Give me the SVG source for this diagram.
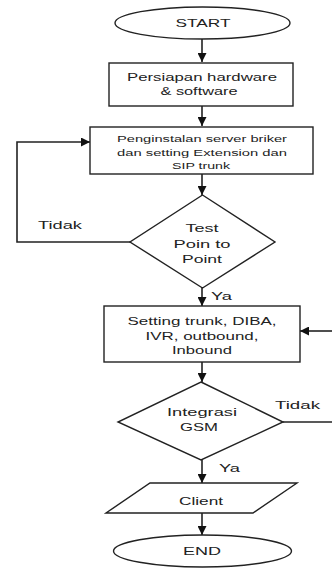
<svg xmlns="http://www.w3.org/2000/svg" width="332" height="570" viewBox="0 0 332 570">
<style>
.s{fill:#fff;stroke:#222;stroke-width:1.4}
.c{fill:none;stroke:#222;stroke-width:1.6}
.t{font-family:"Liberation Sans",Arial,sans-serif;font-size:11px;fill:#222;text-anchor:middle}
.sm{font-size:8.5px}
.l{text-anchor:start}
</style>
<defs>
<marker id="ah" viewBox="0 0 10 10" refX="10" refY="5" markerWidth="9" markerHeight="9" markerUnits="userSpaceOnUse" orient="auto">
<path d="M0,0 L10,5 L0,10 z" fill="#111"/>
</marker>
</defs>
<rect width="332" height="570" fill="#fff"/>
<g id="connectors">
<line class="c" x1="202" y1="39" x2="202" y2="62" marker-end="url(#ah)"/>
<line class="c" x1="202" y1="106" x2="202" y2="126" marker-end="url(#ah)"/>
<line class="c" x1="202" y1="174" x2="202" y2="195" marker-end="url(#ah)"/>
<polyline class="c" points="130,242 17,242 17,142 90,142" marker-end="url(#ah)"/>
<line class="c" x1="202" y1="288" x2="202" y2="306" marker-end="url(#ah)"/>
<line class="c" x1="332" y1="331" x2="300" y2="331" marker-end="url(#ah)"/>
<line class="c" x1="202" y1="362" x2="202" y2="382" marker-end="url(#ah)"/>
<line class="c" x1="283" y1="422" x2="332" y2="422"/>
<line class="c" x1="202" y1="460" x2="202" y2="483" marker-end="url(#ah)"/>
<line class="c" x1="202" y1="513" x2="202" y2="535" marker-end="url(#ah)"/>
<text class="t l" x="38" y="229" textLength="44" lengthAdjust="spacingAndGlyphs">Tidak</text>
<text class="t l" x="211" y="300" textLength="21" lengthAdjust="spacingAndGlyphs">Ya</text>
<text class="t l" x="275" y="409" textLength="45" lengthAdjust="spacingAndGlyphs">Tidak</text>
<text class="t l" x="219" y="472" textLength="21" lengthAdjust="spacingAndGlyphs">Ya</text>
</g>
<g id="start">
<ellipse class="s" cx="202.5" cy="23" rx="87.5" ry="16"/>
<text class="t" x="203" y="27" textLength="55" lengthAdjust="spacingAndGlyphs">START</text>
</g>
<g id="persiapan">
<rect class="s" x="109" y="63" width="184" height="43"/>
<text class="t" x="202" y="81" textLength="150" lengthAdjust="spacingAndGlyphs">Persiapan hardware</text>
<text class="t" x="199" y="95" textLength="77" lengthAdjust="spacingAndGlyphs">&amp; software</text>
</g>
<g id="penginstalan">
<rect class="s" x="90" y="127" width="223" height="47"/>
<text class="t sm" x="202" y="142" textLength="170" lengthAdjust="spacingAndGlyphs">Penginstalan   server  briker</text>
<text class="t sm" x="202" y="156" textLength="170" lengthAdjust="spacingAndGlyphs">dan setting Extension  dan</text>
<text class="t sm" x="201" y="169" textLength="58" lengthAdjust="spacingAndGlyphs">SIP trunk</text>
</g>
<g id="test">
<polygon class="s" points="202.5,195 275,242 202.5,288 130,242"/>
<text class="t" x="202" y="232" textLength="33" lengthAdjust="spacingAndGlyphs">Test</text>
<text class="t" x="202" y="248" textLength="57" lengthAdjust="spacingAndGlyphs">Poin to</text>
<text class="t" x="202" y="263" textLength="40" lengthAdjust="spacingAndGlyphs">Point</text>
</g>
<g id="setting">
<rect class="s" x="104" y="306" width="196" height="56"/>
<text class="t" x="202" y="325" textLength="149" lengthAdjust="spacingAndGlyphs">Setting trunk, DIBA,</text>
<text class="t" x="202" y="340" textLength="113" lengthAdjust="spacingAndGlyphs">IVR, outbound,</text>
<text class="t" x="202" y="354" textLength="60" lengthAdjust="spacingAndGlyphs">Inbound</text>
</g>
<g id="integrasi">
<polygon class="s" points="201,382 283,422 201,460 118,422"/>
<text class="t" x="202" y="416" textLength="70" lengthAdjust="spacingAndGlyphs">Integrasi</text>
<text class="t" x="199" y="431" textLength="38" lengthAdjust="spacingAndGlyphs">GSM</text>
</g>
<g id="client">
<polygon class="s" points="150,483 297,483 253,513 106,513"/>
<text class="t" x="201" y="505" textLength="44" lengthAdjust="spacingAndGlyphs">Client</text>
</g>
<g id="end">
<ellipse class="s" cx="202.5" cy="551" rx="89" ry="16"/>
<text class="t" x="202" y="555" textLength="38" lengthAdjust="spacingAndGlyphs">END</text>
</g>
</svg>
